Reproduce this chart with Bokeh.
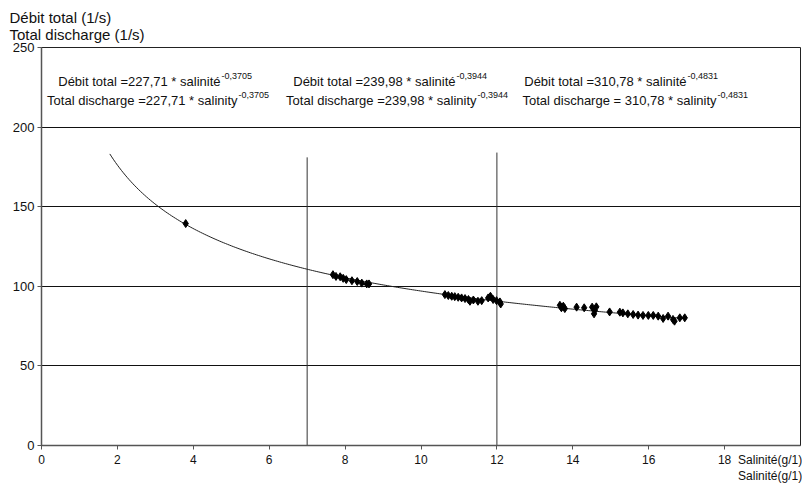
from bokeh.plotting import figure
from bokeh.models import Range1d, FixedTicker, Label, Title, LinearAxis
from bokeh.embed import file_html
from bokeh.resources import INLINE
import numpy as np

# ---- data ----
salinity = [3.8,
            7.68, 7.76, 7.87, 7.95, 8.03, 8.18, 8.32, 8.44, 8.57, 8.63,
            10.63, 10.72, 10.81, 10.89, 10.98, 11.07, 11.16, 11.25, 11.29, 11.38,
            11.5, 11.6, 11.77, 11.83, 11.9, 11.99, 12.08, 12.1,
            13.66, 13.75, 13.79, 13.7, 14.1, 14.3, 14.51, 14.62, 14.56, 14.58,
            14.97, 15.24, 15.32, 15.45, 15.59, 15.72, 15.85, 15.99, 16.12, 16.25,
            16.38, 16.51, 16.64, 16.68, 16.82, 16.95]
discharge = [139.4,
             107.3, 106.2, 106.0, 105.0, 104.2, 103.5, 103.0, 102.0, 101.5, 101.5,
             94.8, 94.2, 93.75, 93.5, 93.1, 92.7, 92.3, 91.7, 90.6, 91.4,
             90.6, 91.0, 92.7, 93.75, 91.7, 91.0, 90.2, 88.9,
             88.1, 87.5, 86.0, 86.5, 86.9, 86.5, 86.9, 87.1, 82.7, 84.8,
             83.9, 83.75, 83.3, 82.7, 82.3, 81.9, 81.7, 81.7, 81.7, 81.25,
             79.8, 81.25, 79.2, 78.1, 80.2, 80.2]

# fitted trend (coefficients printed on the chart)
trend_coef = 227.71
trend_exp = -0.3705
trend_start, trend_end = 1.8, 17.0

# zone boundaries
zone_bounds = [7, 12]
zone_tops = [181, 184]

exp_txt = ["-0,3705", "-0,3944", "-0,4831"]
line_fr = ["Débit total =227,71 * salinité", "Débit total =239,98 * salinité",
           "Débit total =310,78 * salinité"]
line_en = ["Total discharge =227,71 * salinity", "Total discharge =239,98 * salinity",
           "Total discharge = 310,78 * salinity"]

y_title = ["Débit total (1/s)", "Total discharge (1/s)"]
x_title = "Salinité(g/1)"

x_ticks = [0, 2, 4, 6, 8, 10, 12, 14, 16, 18]
y_ticks = [0, 50, 100, 150, 200, 250]

FONT = "Liberation Sans"
INK = "#111111"

# ---- layout (pixels) ----
W, H = 802, 486
L, R, T, B = 41, 2, 47, 41
fw, fh = W - L - R, H - T - B
XMAX, YMAX = 20, 250


def dx(px):
    return (px - L) / fw * XMAX


def dy(py):
    return (H - B - py) / fh * YMAX


p = figure(width=W, height=H, x_range=Range1d(0, XMAX), y_range=Range1d(0, YMAX),
           output_backend="svg", toolbar_location=None,
           min_border_left=L, min_border_right=R, min_border_top=T, min_border_bottom=B)
p.background_fill_color = "white"
p.border_fill_color = "white"
p.outline_line_color = "#222222"
p.outline_line_width = 1

p.xgrid.visible = False
p.ygrid.grid_line_color = "#111111"
p.ygrid.grid_line_width = 1
p.ygrid.ticker = FixedTicker(ticks=y_ticks)

for ax in (p.xaxis, p.yaxis):
    ax.axis_line_color = "#555555"
    ax.axis_line_width = 1.5
    ax.major_tick_line_color = "#555555"
    ax.major_tick_out = 4
    ax.major_tick_in = 0
    ax.minor_tick_line_color = None
    ax.major_label_text_font = FONT
    ax.major_label_text_font_size = "13px"
    ax.major_label_text_color = INK
p.yaxis.ticker = FixedTicker(ticks=y_ticks)
p.yaxis.major_label_standoff = 3

# bottom axis: line + tick marks only
p.xaxis.ticker = FixedTicker(ticks=x_ticks)
p.xaxis.major_label_text_font_size = "0px"
p.xaxis.major_label_text_alpha = 0
p.xaxis.major_label_standoff = 0

# second bottom axis: tick labels and the axis title (as a labelled position)
title_pos = 19.2
lab_axis = LinearAxis(ticker=FixedTicker(ticks=x_ticks + [title_pos]),
                      major_label_overrides={title_pos: x_title + "\n" + x_title},
                      axis_line_color=None, major_tick_line_color=None,
                      minor_tick_line_color=None, major_tick_out=0, major_tick_in=0,
                      major_label_standoff=3, major_label_text_font=FONT,
                      major_label_text_font_size="12px", major_label_text_color=INK)
p.add_layout(lab_axis, "below")

# y-axis title (two lines)
p.add_layout(Title(text=y_title[0] + "\n" + y_title[1], align="left", offset=-32,
                   standoff=10, text_font=FONT, text_font_size="15px",
                   text_font_style="normal", text_color=INK), "above")

# zone lines
p.segment(x0=zone_bounds, y0=[0, 0], x1=zone_bounds, y1=zone_tops,
          line_color="#333333", line_width=1)

# trend curve
xs = np.linspace(trend_start, trend_end, 300)
p.line(xs, trend_coef * xs ** trend_exp, line_color="#222222", line_width=1)

# points
p.scatter(salinity, discharge, marker="diamond", size=8, color="black")

# equations (main text right-aligned, exponent follows)
ends_fr = [220, 455, 686]
ends_en = [237, 476, 716]
for i in range(3):
    for txt, end, base in ((line_fr[i], ends_fr[i], 81), (line_en[i], ends_en[i], 100)):
        p.add_layout(Label(x=dx(end), y=dy(base), text=txt, text_align="right",
                           text_baseline="alphabetic", text_font=FONT,
                           text_font_size="13px", text_color=INK))
        p.add_layout(Label(x=dx(end + 1), y=dy(base - 6), text=exp_txt[i], text_align="left",
                           text_baseline="alphabetic", text_font=FONT,
                           text_font_size="9px", text_color=INK))

open("out.html", "w").write(file_html(p, INLINE))
